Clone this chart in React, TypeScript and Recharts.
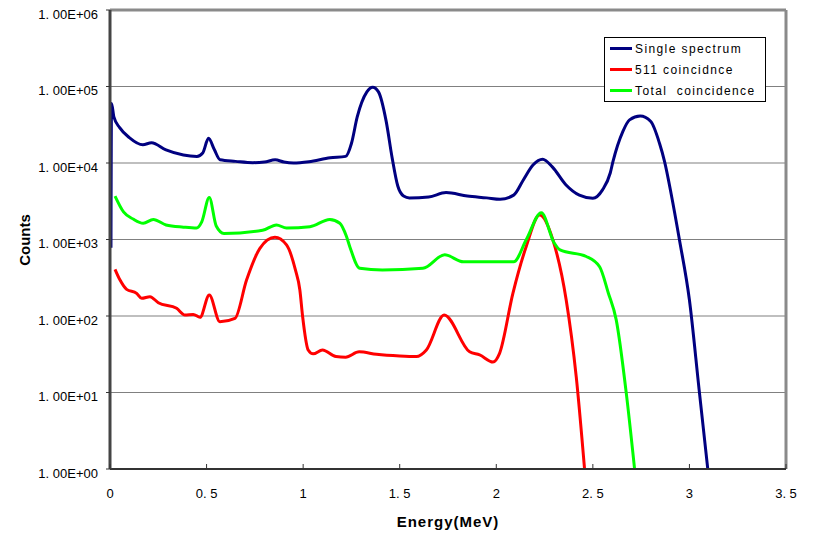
import { LineChart, Line, XAxis, YAxis, CartesianGrid, ReferenceLine, Legend, Label } from "recharts";

document.body.style.margin = "0";

const xTicks = [0, 0.5, 1, 1.5, 2, 2.5, 3, 3.5];
const yTicks = [1, 10, 100, 1000, 10000, 100000, 1000000];

// Single spectrum
const singleEnergy = [
  0.005, 0.008, 0.02, 0.05, 0.1, 0.17, 0.215, 0.29, 0.38, 0.45, 0.48, 0.51, 0.54, 0.57, 0.65, 0.74, 0.8,
  0.855, 0.9, 0.95, 1.03, 1.14, 1.22, 1.25, 1.28, 1.33, 1.36, 1.39, 1.43, 1.46, 1.49, 1.52, 1.55, 1.65,
  1.74, 1.85, 1.95, 2.02, 2.09, 2.14, 2.19, 2.24, 2.29, 2.36, 2.43, 2.5, 2.55, 2.59, 2.604, 2.655, 2.69,
  2.745, 2.8, 2.845, 2.871, 2.905, 2.948, 3.0, 3.05, 3.095,
];
const singleCounts = [
  780, 60000, 40000, 29000, 21500, 17300, 18400, 14800, 12700, 12200, 13500, 21000, 15000, 11000, 10500,
  10100, 10300, 11000, 10300, 10000, 10400, 11700, 12200, 18000, 40000, 85000, 98000, 85000, 35000, 12000,
  5000, 3700, 3500, 3600, 4100, 3700, 3500, 3350, 3800, 6000, 9400, 11200, 8900, 5200, 3800, 3460, 4450,
  7400, 10400, 25700, 36600, 41100, 34800, 18100, 10500, 4000, 1000, 162, 11, 1,
];

// 511 coincidence
const c511Energy = [
  0.026, 0.052, 0.086, 0.138, 0.164, 0.207, 0.25, 0.345, 0.388, 0.431, 0.466, 0.514, 0.569, 0.647, 0.707,
  0.776, 0.854, 0.914, 0.96, 0.983, 0.997, 1.026, 1.052, 1.1, 1.17, 1.22, 1.29, 1.38, 1.5, 1.586, 1.638,
  1.73, 1.862, 1.914, 1.983, 2.017, 2.086, 2.155, 2.224, 2.293, 2.362, 2.414, 2.457,
];
const c511Counts = [
  408, 295, 223, 198, 170, 179, 149, 126, 103, 105, 96, 188, 84, 93, 295, 767, 1070, 850, 400, 219, 100, 36,
  32, 36, 29.5, 29, 34, 31.6, 30, 29.5, 36, 103, 34, 31, 25, 32.5, 198, 810, 2090, 990, 162, 16, 1,
];

// Total coincidence
const totalEnergy = [
  0.026, 0.07, 0.12, 0.172, 0.224, 0.29, 0.38, 0.448, 0.475, 0.514, 0.55, 0.59, 0.79, 0.862, 0.914, 1.035,
  1.138, 1.19, 1.224, 1.242, 1.293, 1.41, 1.62, 1.733, 1.83, 2.09, 2.155, 2.233, 2.3, 2.33, 2.466, 2.535,
  2.58, 2.621, 2.673, 2.716,
];
const totalCounts = [
  3700, 2300, 1850, 1630, 1830, 1550, 1450, 1410, 1700, 3550, 1500, 1200, 1320, 1550, 1410, 1470, 1830, 1630,
  1100, 800, 420, 400, 420, 630, 510, 510, 990, 2240, 900, 730, 600, 440, 200, 89, 9.8, 1,
];

const seriesNames = ["Single spectrum", "511 coincidnce", "Total  coincidence"];
const seriesColors = ["#000080", "#ff0000", "#00ff00"];

const toRows = (es: number[], vs: number[]) => es.map((e, i) => ({ e, v: vs[i] }));
const singleData = toRows(singleEnergy, singleCounts);
const c511Data = toRows(c511Energy, c511Counts);
const totalData = toRows(totalEnergy, totalCounts);

const font = "'Liberation Sans', Arial, sans-serif";

const fmtExp = (v: number) => {
  const e = Math.round(Math.log10(v));
  return "1. 00E+" + String(e).padStart(2, "0");
};

const YTick = (props: any) => {
  const { x, y, payload } = props;
  return (
    <text x={x} y={y} dy={8.6} textAnchor="end" fontSize={13} fontFamily={font} fill="#000">
      {fmtExp(payload.value)}
    </text>
  );
};

const XTick = (props: any) => {
  const { x, y, payload } = props;
  const label = payload.value === 0 ? "0" : String(payload.value).replace(".", ". ");
  return (
    <g>
      <line x1={x} x2={x} y1={y - 5} y2={y} stroke="#333" strokeWidth={1} />
      <text x={x} y={y + 29} textAnchor="middle" fontSize={13} fontFamily={font} fill="#000">
        {label}
      </text>
    </g>
  );
};

const LegendBox = () => (
  <div
    style={{
      width: 162,
      height: 65,
      boxSizing: "border-box",
      border: "1px solid #000",
      background: "#fff",
      fontFamily: font,
      fontSize: 12,
      letterSpacing: 1.4,
      color: "#000",
      overflow: "hidden",
    }}
  >
    {seriesNames.map((n, i) => (
      <div key={n} style={{ height: 21, display: "flex", alignItems: "center", whiteSpace: "pre" }}>
        <span style={{ display: "inline-block", width: 22, height: 3, marginLeft: 5, marginRight: 3, background: seriesColors[i] }} />
        {n}
      </div>
    ))}
  </div>
);

export default function App() {
  return (
    <div style={{ position: "relative", width: 814, height: 534, background: "#fff" }}>
      <LineChart width={814} height={534} margin={{ top: 10, right: 28, left: 0, bottom: 0 }}>
        <CartesianGrid vertical={false} stroke="#808080" strokeWidth={1.2} />
        <XAxis
          type="number"
          dataKey="e"
          domain={[0, 3.5]}
          ticks={xTicks}
          allowDataOverflow
          height={65}
          tickSize={0}
          tickMargin={0}
          tick={<XTick />}
          axisLine={{ stroke: "#333", strokeWidth: 2 }}
        >
          <Label
            content={() => (
              <text x={448} y={527} textAnchor="middle" fontSize={15} fontWeight="bold" fontFamily={font} letterSpacing={1} fill="#000">
                Energy(MeV)
              </text>
            )}
          />
        </XAxis>
        <YAxis
          scale="log"
          domain={[1, 1000000]}
          ticks={yTicks}
          allowDataOverflow
          width={110}
          tickSize={4}
          tickMargin={8}
          tick={<YTick />}
          tickLine={{ stroke: "#333" }}
          axisLine={{ stroke: "#444", strokeWidth: 3 }}
        >
          <Label
            content={() => (
              <text
                x={30}
                y={240}
                transform="rotate(-90 30 240)"
                textAnchor="middle"
                fontSize={15}
                fontWeight="bold"
                fontFamily={font}
                fill="#000"
              >
                Counts
              </text>
            )}
          />
        </YAxis>
        <ReferenceLine y={1000000} stroke="#8a8a8a" strokeWidth={3} />
        <ReferenceLine x={3.5} stroke="#8a8a8a" strokeWidth={3} />
        <Line data={singleData} dataKey="v" name={seriesNames[0]} type="monotone" stroke={seriesColors[0]} strokeWidth={3} dot={false} isAnimationActive={false} />
        <Line data={c511Data} dataKey="v" name={seriesNames[1]} type="monotone" stroke={seriesColors[1]} strokeWidth={3} dot={false} isAnimationActive={false} />
        <Line data={totalData} dataKey="v" name={seriesNames[2]} type="monotone" stroke={seriesColors[2]} strokeWidth={3} dot={false} isAnimationActive={false} />
        <Legend
          layout="vertical"
          align="center"
          verticalAlign="middle"
          content={<LegendBox />}
          wrapperStyle={{ left: 604, top: 37, width: 162, height: 65 }}
        />
      </LineChart>
    </div>
  );
}
